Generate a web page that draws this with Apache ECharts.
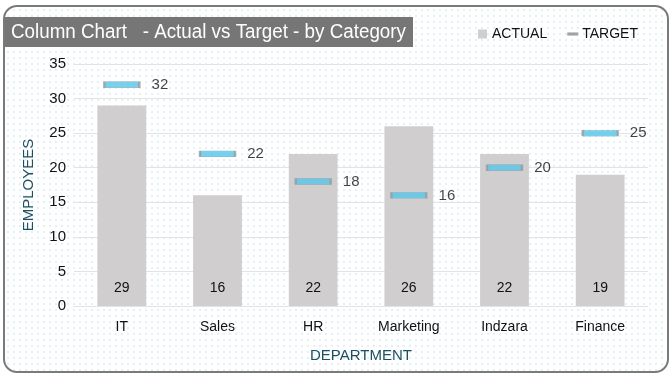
<!DOCTYPE html>
<html>
<head>
<meta charset="utf-8">
<script src="https://cdn.jsdelivr.net/npm/echarts@6/dist/echarts.min.js"></script>
<style>
  html, body { margin: 0; padding: 0; background: #fff; }
  .frame {
    position: absolute; left: 3px; top: 5px; width: 662px; height: 364px;
    border: 2px solid #7a7a7a; border-radius: 14px;
    background-color: #fff;
    background-image: radial-gradient(circle, #e0f1f7 0.8px, transparent 1px);
    background-size: 6px 6px;
  }
  #chart { position: absolute; left: 0; top: 0; width: 672px; height: 376px; }
</style>
</head>
<body>
<div class="frame"></div>
<div id="chart"></div>
<script>
// 数据
const categories = ["IT", "Sales", "HR", "Marketing", "Indzara", "Finance"];
const actualValues = [29, 16, 22, 26, 22, 19];
const targetValues = [32, 22, 18, 16, 20, 25];

const font = "'Liberation Sans', sans-serif";
const axisNameColor = "#1d4f5e";

const chart = echarts.init(document.getElementById("chart"));
chart.setOption({
  animation: false,
  graphic: [
    {
      type: "rect",
      left: 5, top: 17,
      shape: { width: 408, height: 30 },
      style: { fill: "#767676" },
    },
    {
      type: "text",
      x: 11, y: 32,
      scaleX: 0.94,
      style: {
        text: "Column Chart   - Actual vs Target - by Category",
        fill: "#fff",
        font: "20px " + font,
        verticalAlign: "middle",
      },
    },
  ],
  legend: {
    top: 22,
    left: 473,
    itemGap: 20,
    itemWidth: 9,
    itemHeight: 9,
    textStyle: { fontFamily: font, fontSize: 14, color: "#111" },
    data: [
      { name: "ACTUAL", icon: "rect" },
      { name: "TARGET", icon: "path://M0,4 L10,4 L10,5.5 L0,5.5 Z", itemStyle: { color: "#8c8c8c" } },
    ],
  },
  grid: { left: 74, right: 24, top: 64, bottom: 70 },
  xAxis: {
    type: "category",
    data: categories,
    name: "DEPARTMENT",
    nameLocation: "middle",
    nameGap: 42,
    nameTextStyle: { color: axisNameColor, fontFamily: font, fontSize: 15 },
    axisLine: { show: true, lineStyle: { color: "#e3e3e3" } },
    axisTick: { show: false },
    axisLabel: { margin: 14, color: "#111", fontFamily: font, fontSize: 14 },
  },
  yAxis: {
    type: "value",
    min: 0,
    max: 35,
    interval: 5,
    name: "EMPLOYEES",
    nameLocation: "middle",
    nameGap: 38,
    nameTextStyle: { color: axisNameColor, fontFamily: font, fontSize: 15 },
    axisLabel: { margin: 8, color: "#111", fontFamily: font, fontSize: 15 },
    splitLine: { lineStyle: { color: "#e3e3e3" } },
  },
  series: [
    {
      name: "ACTUAL",
      type: "bar",
      data: actualValues,
      barWidth: "51%",
      itemStyle: { color: "#d0cece" },
      label: {
        show: true,
        position: "insideBottom",
        distance: 11,
        color: "#111",
        fontFamily: font,
        fontSize: 14,
      },
    },
    {
      name: "TARGET",
      type: "scatter",
      data: targetValues,
      symbol: "rect",
      symbolSize: [35, 6],
      itemStyle: { color: "#55c6ea", borderColor: "#9a9a9a", borderWidth: 1 },
      label: {
        show: true,
        position: "right",
        distance: 11,
        color: "#111",
        fontFamily: font,
        fontSize: 15,
      },
      z: 5,
    },
  ],
});
</script>
</body>
</html>
